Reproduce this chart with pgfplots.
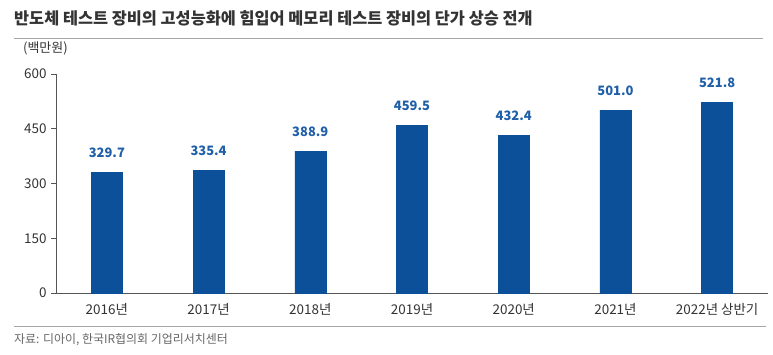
\documentclass[border=0pt]{standalone}
\usepackage{pgfplots}
\pgfplotsset{compat=1.18}
\usepackage{fontspec}
\setmainfont{Noto Sans CJK KR}
\definecolor{barblue}{HTML}{0B5099}
\definecolor{lblblue}{HTML}{1F5FA8}
\definecolor{txt}{HTML}{333333}
\definecolor{axcol}{HTML}{555555}
\begin{document}
\begin{tikzpicture}[x=1bp,y=1bp]
\path (0,0) rectangle (773,354);
\node[anchor=west,font=\fontsize{16.4}{18}\selectfont\bfseries,text=txt,inner sep=0] at (14,336) {반도체 테스트 장비의 고성능화에 힘입어 메모리 테스트 장비의 단가 상승 전개};
\draw[color=black!35,line width=1.8bp] (14,315.5) -- (763,315.5);
\draw[color=black!35,line width=0.9bp] (14,28) -- (766,28);
\node[anchor=west,font=\fontsize{13}{15}\selectfont,text=txt,inner sep=0] at (23,306) {(백만원)};
\node[anchor=west,font=\fontsize{12}{14}\selectfont,text=black!60,inner sep=0] at (14,14) {자료: 디아이, 한국IR협의회 기업리서치센터};
\begin{axis}[
  at={(56bp,61bp)}, anchor=south west,
  scale only axis, width=712bp, height=219bp,
  xmin=-0.5, xmax=6.5, ymin=0, ymax=600,
  axis x line*=bottom, axis y line*=left,
  axis line style={color=axcol, line width=0.7bp},
  ytick={0,150,300,450,600},
  xtick={0,1,2,3,4,5,6},
  xticklabels={2016년,2017년,2018년,2019년,2020년,2021년,2022년 상반기},
  major x tick style={draw=none},
  extra x ticks={-0.5,0.5,1.5,2.5,3.5,4.5,5.5,6.5},
  extra x tick labels={},
  extra x tick style={major tick length=4bp, tick style={draw=axcol,line width=0.7bp}},
  tick align=outside,
  major tick length=5bp,
  y tick style={draw=axcol, line width=0.7bp},
  /pgf/number format/assume math mode=true,
  ticklabel style={font=\fontsize{13.5}{15}\selectfont, text=txt},
  xticklabel style={yshift=-2bp},
  yticklabel style={xshift=-1bp},
  ybar, bar width=31bp,
  nodes near coords,
  nodes near coords style={font=\fontsize{13}{15}\selectfont\bfseries, text=lblblue, yshift=11bp, /pgf/number format/.cd, fixed, fixed zerofill, precision=1, assume math mode=true},
  clip=false,
]
\addplot[fill=barblue, draw=barblue] coordinates {(0,329.7) (1,335.4) (2,388.9) (3,459.5) (4,432.4) (5,501.0) (6,521.8)};
\end{axis}
\end{tikzpicture}
\end{document}
